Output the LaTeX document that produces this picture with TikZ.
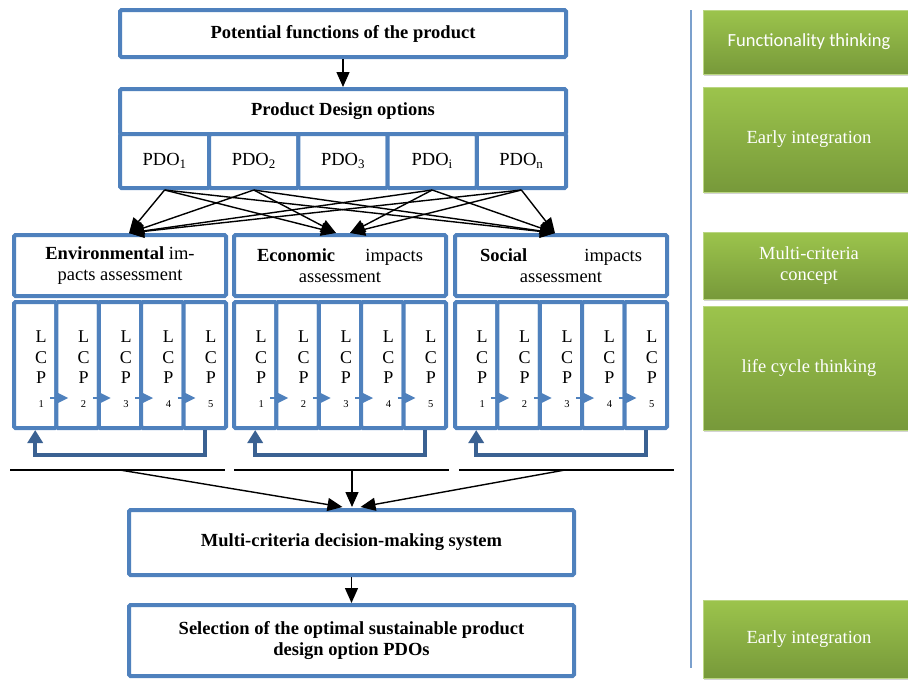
\documentclass[tikz,border=0pt]{standalone}
\usepackage{fontspec}
\setmainfont{Liberation Serif}
\newfontfamily\calibrifont{Carlito}
\usepackage{xcolor}
\usepackage{tikz}
\usetikzlibrary{calc}
\usetikzlibrary{arrows.meta,shadows}

\definecolor{boxblue}{HTML}{4F81BD}
\definecolor{loopblue}{HTML}{3A6192}
\definecolor{sepblue}{HTML}{7BA0CD}
\definecolor{leafgreen}{HTML}{9CC44C}
\definecolor{mossgreen}{HTML}{77993A}

\tikzset{
  bluebox/.style={draw=boxblue, line width=4pt, fill=white, rounded corners=1.5pt, inner sep=2pt},
  lcpcell/.style={bluebox, minimum width=42.4, minimum height=126},
  lcptext/.style={align=center, inner sep=0pt, font=\fontsize{18}{20.5}\selectfont},
  greenbox/.style={top color=leafgreen, bottom color=mossgreen, draw=leafgreen!70!white, line width=0.6pt,
    text=white, minimum width=212, align=center,
    drop shadow={shadow xshift=1pt, shadow yshift=-2pt, opacity=0.35}},
  mainarrow/.style={-{Triangle[length=15pt,width=13pt]}, line width=1.4pt},
  lcparrow/.style={-{Triangle[length=12pt,width=11pt]}, draw=boxblue, line width=2.5pt},
  backloop/.style={-{Triangle[length=13pt,width=15pt]}, draw=loopblue, line width=4pt},
  blackline/.style={line width=1.3pt}
}

\begin{document}
\begin{tikzpicture}[x=1pt, y=-1pt, font=\fontsize{18.5}{21}\selectfont]
\useasboundingbox (0,0) rectangle (908,680);

% Functions and design options
\node[bluebox, minimum width=446, minimum height=47] (pf) at (343,33.5) {\textbf{Potential functions of the product}};
\node[bluebox, minimum width=446, minimum height=45] (pdo) at (343,111.5) {\textbf{Product Design options}};
\foreach \i/\s in {1/1,2/2,3/3,4/i,5/n}
  \node[bluebox, minimum width=89.2, minimum height=54] (pdo\i) at ({75.4+89.2*\i},161) {PDO\textsubscript{\s}};
\draw[mainarrow] (pf.south) -- (pdo.north);

% Assessment headers
\node[bluebox, minimum width=212, minimum height=61, align=center] (envh) at (120,265.5) {\textbf{Environmental} im-\\pacts assessment};
\node[bluebox, minimum width=212, minimum height=61, text width=166, align=center] (ecoh) at (340,265.5) {\textbf{Economic}\hfill impacts\\assessment};
\node[bluebox, minimum width=212, minimum height=61, text width=162, align=center] (soch) at (561,265.5) {\textbf{Social}\hfill impacts\\assessment};

% LCP cells, arrows between them and loop back
\foreach \g/\gx in {env/12, eco/232, soc/453} {
  \foreach \i in {1,...,5} {
    \node[lcpcell] (\g\i) at ({\gx+2+(\i-0.5)*42.4},365) {};
    \node[lcptext] (\g lbl\i) at ($(\g\i)+(6,4)$) {L\\C\\P\\[3pt]{\fontsize{10.5}{10.5}\selectfont\i}};
  }
  \foreach \i [count=\j from 2] in {1,...,4}
    \draw[lcparrow] ($(\g\i.east)+(-8,33)$) -- ($(\g\j.west)+(14,33)$);
  \draw[backloop] (\g5.south) -- ++(0,25) -| (\g1.south);
}

% Options to assessments
\coordinate (envin) at ($(envh.north)+(9,0)$);
\coordinate (ecoina) at ($(ecoh.north)+(-4,0)$);
\coordinate (ecoinb) at ($(ecoh.north)+(10,0)$);
\coordinate (socin) at ($(soch.north)+(-6,0)$);
\foreach \i/\e in {1/ecoina, 2/ecoina, 4/ecoinb, 5/ecoinb} {
  \draw[mainarrow] (pdo\i.south) -- (envin);
  \draw[mainarrow] (pdo\i.south) -- (\e);
  \draw[mainarrow] (pdo\i.south) -- (socin);
}

% Decision part
\node[bluebox, minimum width=445, minimum height=65] (mcdm) at (351.5,542.5) {\textbf{Multi-criteria decision-making system}};
\node[bluebox, minimum width=445, minimum height=71, align=center] (sel) at (351.5,640.5) {\textbf{Selection of the optimal sustainable product}\\\textbf{design option PDOs}};

\coordinate (envla) at (10,470);
\coordinate (envlb) at (225,470);
\coordinate (ecola) at (234,470);
\coordinate (ecolb) at (449,470);
\coordinate (socla) at (459,470);
\coordinate (soclb) at (674,470);
\draw[blackline] (envla) -- (envlb);
\draw[blackline] (ecola) -- (ecolb);
\draw[blackline] (socla) -- (soclb);
\coordinate (envout) at (120,470);
\coordinate (ecoout) at (352,470);
\coordinate (socout) at (565,470);
\draw[mainarrow] (envout) -- ($(mcdm.north)+(-9,-1)$);
\draw[mainarrow] (ecoout) -- ($(ecoout |- mcdm.north)+(0,-1)$);
\draw[mainarrow] (socout) -- ($(mcdm.north)+(9,-1)$);
\draw[mainarrow] (mcdm.south) -- (sel.north);

% Separator and concepts
\coordinate (sepa) at (691,10);
\coordinate (sepb) at (691,668);
\draw[sepblue, line width=1.6pt] (sepa) -- (sepb);

\node[greenbox, minimum height=64] (functhink) at (809,42) {\calibrifont\fontsize{18.5}{21}\selectfont Functionality thinking};
\node[greenbox, minimum height=105] (earlyint) at (809,139.5) {Early integration};
\node[greenbox, minimum height=67] (multicrit) at (809,265.5) {Multi-criteria\\concept};
\node[greenbox, minimum height=124] (lifecycle) at (809,368) {life cycle thinking};
\node[greenbox, minimum height=78] (earlyintb) at (809,639) {Early integration};
\end{tikzpicture}
\end{document}
